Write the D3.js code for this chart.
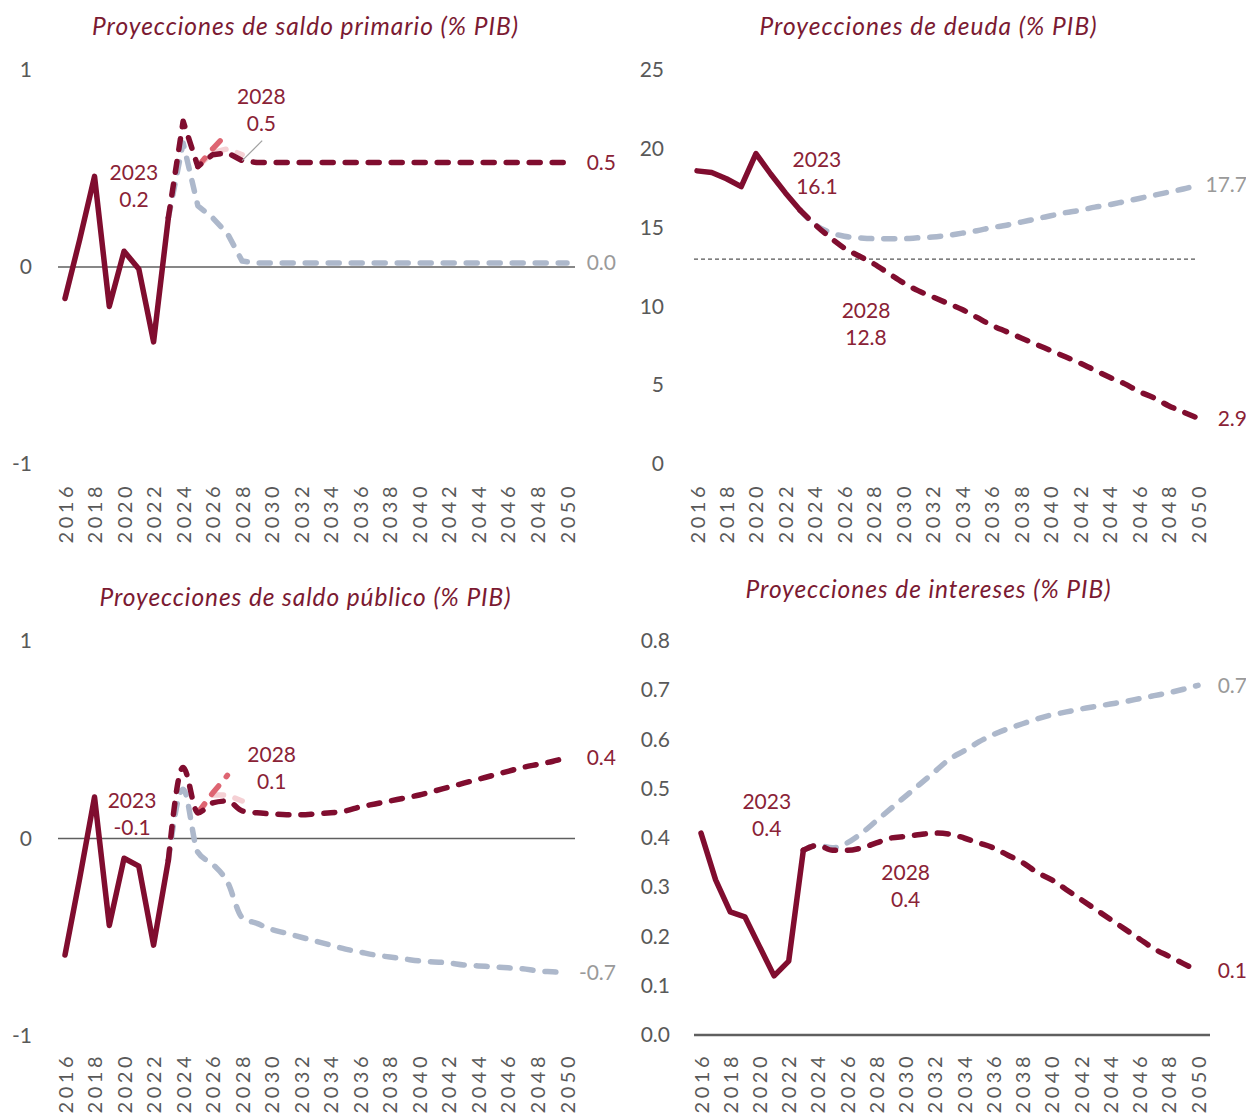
<!DOCTYPE html>
<html>
<head>
<meta charset="utf-8">
<script src="https://cdn.jsdelivr.net/npm/d3@7"></script>
<style>
  body { margin: 0; background: #fff; }
  svg { display: block; font-family: Lato, "Open Sans", sans-serif; }
</style>
</head>
<body>
<div id="chart"></div>
<script>
// years and tick labels
const years = d3.range(2016, 2051);
const tickYears = years.filter(d => d % 2 === 0);

// saldo primario
const primarioHist = [-0.16, 0.14, 0.46, -0.2, 0.08, -0.01, -0.38, 0.25]; // 2016-2023
const primarioBase = [0.25, 0.74, 0.51, 0.57, 0.58, 0.54, 0.53, 0.53, 0.53, 0.53, 0.53, 0.53, 0.53, 0.53,
  0.53, 0.53, 0.53, 0.53, 0.53, 0.53, 0.53, 0.53, 0.53, 0.53, 0.53, 0.53, 0.53, 0.53]; // 2023-2050
const primarioGris = [0.25, 0.63, 0.31, 0.25, 0.17, 0.03, 0.02, 0.02, 0.02, 0.02, 0.02, 0.02, 0.02, 0.02,
  0.02, 0.02, 0.02, 0.02, 0.02, 0.02, 0.02, 0.02, 0.02, 0.02, 0.02, 0.02, 0.02, 0.02]; // 2023-2050
const primarioRosa = [0.51, 0.6, 0.68]; // 2025-2027
const primarioRosaClaro = [0.51, 0.58, 0.6, 0.57]; // 2025-2028

// deuda
const deudaHist = [18.6, 18.5, 18.1, 17.6, 19.7, 18.4, 17.2, 16.1];
const deudaBase = [16.1, 15.2, 14.4, 13.7, 13.2, 12.7, 12.1, 11.5, 11.0, 10.6, 10.2, 9.8, 9.3, 8.8,
  8.4, 8.0, 7.6, 7.2, 6.8, 6.4, 5.95, 5.5, 5.1, 4.6, 4.2, 3.7, 3.3, 2.9];
const deudaGris = [16.1, 15.2, 14.7, 14.45, 14.35, 14.3, 14.3, 14.3, 14.35, 14.4, 14.5, 14.65, 14.8, 15.0,
  15.15, 15.35, 15.55, 15.75, 15.95, 16.1, 16.3, 16.45, 16.65, 16.85, 17.05, 17.25, 17.45, 17.7];
const deudaUmbral = 13;

// saldo publico
const publicoHist = [-0.59, -0.2, 0.21, -0.44, -0.1, -0.14, -0.54, -0.11];
const publicoBase = [-0.11, 0.36, 0.13, 0.18, 0.19, 0.14, 0.13, 0.125, 0.12, 0.12, 0.125, 0.13, 0.14, 0.16,
  0.175, 0.19, 0.205, 0.22, 0.24, 0.26, 0.28, 0.3, 0.32, 0.34, 0.36, 0.375, 0.39, 0.41];
const publicoGris = [-0.11, 0.25, -0.07, -0.13, -0.22, -0.4, -0.43, -0.46, -0.48, -0.5, -0.52, -0.54, -0.56, -0.575,
  -0.59, -0.6, -0.61, -0.62, -0.625, -0.63, -0.64, -0.645, -0.65, -0.655, -0.66, -0.67, -0.675, -0.68];
const publicoRosa = [0.13, 0.23, 0.32];
const publicoRosaClaro = [0.13, 0.22, 0.22, 0.19];

// intereses
const interesesHist = [0.41, 0.315, 0.25, 0.24, 0.18, 0.12, 0.15, 0.375];
const interesesBase = [0.375, 0.385, 0.375, 0.375, 0.38, 0.39, 0.4, 0.403, 0.407, 0.41, 0.408, 0.4, 0.39, 0.38,
  0.365, 0.35, 0.33, 0.315, 0.295, 0.275, 0.255, 0.235, 0.215, 0.195, 0.175, 0.16, 0.145, 0.13];
const interesesGris = [0.375, 0.385, 0.38, 0.39, 0.41, 0.435, 0.46, 0.485, 0.51, 0.535, 0.56, 0.577, 0.595, 0.61,
  0.622, 0.632, 0.642, 0.65, 0.656, 0.662, 0.667, 0.672, 0.677, 0.683, 0.689, 0.695, 0.702, 0.71];

const RED = "#800d2f", TXT_RED = "#8a2236", TITLE = "#7b1a32", GRIS = "#adb8cb",
  ROSA = "#de6572", ROSA_CLARO = "#f5d0d4", AXIS_TXT = "#595959", GRIS_TXT = "#9a9a9a";

const svg = d3.select("#chart").append("svg").attr("width", 1246).attr("height", 1113);

// plain hyphen instead of the unicode minus
const fmtInt = d => d3.format("d")(d).replace("\u2212", "-");
const fmtDec = d => d3.format(".1f")(d).replace("\u2212", "-");

// turn a list of values into points starting at a year
function pts(start, vals) {
  return vals.map((v, i) => ({ year: start + i, value: v }));
}

function drawPanel(p) {
  const g = svg.append("g");
  const x = d3.scaleLinear().domain([2016, 2050]).range(p.xRange);
  const y = d3.scaleLinear().domain(p.yDomain).range(p.yRange);

  // title
  g.append("text")
    .attr("x", p.titleX).attr("y", p.titleY)
    .attr("text-anchor", "middle")
    .attr("font-size", 24.5).attr("font-style", "italic")
    .attr("fill", TITLE)
    .attr("textLength", p.titleW).attr("lengthAdjust", "spacing")
    .text(p.title);

  // y axis labels
  const yAxis = d3.axisLeft(y).tickValues(p.yTicks).tickFormat(p.yFormat).tickSize(0).tickPadding(0);
  const ya = g.append("g").attr("transform", `translate(${p.yLabelX},0)`).call(yAxis);
  ya.select(".domain").remove();
  ya.selectAll("text").attr("font-size", 21).attr("fill", AXIS_TXT).attr("font-family", "Lato, sans-serif");

  // x axis labels (rotated)
  const xa = g.append("g").attr("transform", `translate(0,${p.xLabelY})`)
    .call(d3.axisBottom(x).tickValues(tickYears).tickFormat(d3.format("d")).tickSize(0).tickPadding(0));
  xa.select(".domain").remove();
  xa.selectAll("text")
    .attr("transform", "rotate(-90)")
    .attr("text-anchor", "end")
    .attr("x", 0).attr("y", 0).attr("dy", "0.35em")
    .attr("font-size", 20).attr("letter-spacing", 3.5)
    .attr("fill", AXIS_TXT).attr("font-family", "Lato, sans-serif");

  // reference line
  if (p.zeroLine !== undefined) {
    g.append("line")
      .attr("x1", p.lineX[0]).attr("x2", p.lineX[1])
      .attr("y1", y(p.zeroLine)).attr("y2", y(p.zeroLine))
      .attr("stroke", "#5f5f5f").attr("stroke-width", p.zeroWidth || 1.6);
  }
  if (p.dotLine !== undefined) {
    g.append("line")
      .attr("x1", p.lineX[0]).attr("x2", p.lineX[1])
      .attr("y1", y(p.dotLine)).attr("y2", y(p.dotLine))
      .attr("stroke", "#555").attr("stroke-width", 1.2).attr("stroke-dasharray", "4,3");
  }

  const lineSmooth = d3.line().x(d => x(d.year)).y(d => y(d.value)).curve(d3.curveMonotoneX);
  const lineStraight = d3.line().x(d => x(d.year)).y(d => y(d.value));

  const dashed = (data, color, curve) => g.append("path")
    .datum(data)
    .attr("d", curve)
    .attr("fill", "none").attr("stroke", color).attr("stroke-width", 5.5)
    .attr("stroke-linecap", "round").attr("stroke-linejoin", "round")
    .attr("stroke-dasharray", "11,12");

  dashed(pts(2023, p.gris), GRIS, p.smooth ? lineSmooth : lineStraight);
  if (p.rosaClaro) dashed(pts(2025, p.rosaClaro), ROSA_CLARO, lineStraight);
  if (p.rosa) dashed(pts(2025, p.rosa), ROSA, lineStraight);
  dashed(pts(2023, p.base), RED, p.smooth ? lineSmooth : lineStraight);

  g.append("path")
    .datum(pts(2016, p.hist))
    .attr("d", lineStraight)
    .attr("fill", "none").attr("stroke", RED).attr("stroke-width", 5.5)
    .attr("stroke-linecap", "round").attr("stroke-linejoin", "round");

  // leader line
  if (p.leader) {
    const lx = x(2028), ly = y(p.base[5]);
    g.append("line")
      .attr("x1", lx).attr("y1", ly).attr("x2", lx + 20).attr("y2", ly - 20)
      .attr("stroke", "#a0a0a0").attr("stroke-width", 1.2);
  }

  // annotations
  p.notes.forEach(n => {
    const t = g.append("text")
      .attr("text-anchor", "middle")
      .attr("font-size", 21).attr("fill", TXT_RED);
    t.append("tspan").attr("x", x(n.year)).attr("y", y(n.value)).attr("dy", "0.35em").text(n.l1);
    t.append("tspan").attr("x", x(n.year)).attr("dy", 27).text(n.l2);
  });

  // end labels
  const last = p.base.length - 1;
  g.append("text")
    .attr("x", x(2050) + 49).attr("y", y(p.base[last])).attr("dy", "0.35em")
    .attr("text-anchor", "end").attr("font-size", 21).attr("fill", TXT_RED)
    .text(p.endBase);
  g.append("text")
    .attr("x", x(2050) + 49).attr("y", y(p.gris[last])).attr("dy", "0.35em")
    .attr("text-anchor", "end").attr("font-size", 21).attr("fill", GRIS_TXT)
    .text(p.endGris);
}

drawPanel({
  title: "Proyecciones de saldo primario (% PIB)", titleX: 305, titleY: 35, titleW: 426,
  xRange: [65, 567], yDomain: [-1, 1], yRange: [464, 70],
  yTicks: [-1, 0, 1], yFormat: fmtInt, yLabelX: 32, xLabelY: 483,
  zeroLine: 0, lineX: [58, 575],
  hist: primarioHist, base: primarioBase, gris: primarioGris,
  rosa: primarioRosa, rosaClaro: primarioRosaClaro, leader: true, smooth: false,
  notes: [{ year: 2020.67, value: 0.48, l1: "2023", l2: "0.2" },
          { year: 2029.3, value: 0.865, l1: "2028", l2: "0.5" }],
  endBase: "0.5", endGris: "0.0"
});

drawPanel({
  title: "Proyecciones de deuda (% PIB)", titleX: 928, titleY: 35, titleW: 337,
  xRange: [697, 1198], yDomain: [0, 25], yRange: [464, 70],
  yTicks: [0, 5, 10, 15, 20, 25], yFormat: fmtInt, yLabelX: 664, xLabelY: 483,
  dotLine: deudaUmbral, lineX: [694, 1197],
  hist: deudaHist, base: deudaBase, gris: deudaGris, smooth: true,
  notes: [{ year: 2024.14, value: 19.3, l1: "2023", l2: "16.1" },
          { year: 2027.47, value: 9.7, l1: "2028", l2: "12.8" }],
  endBase: "2.9", endGris: "17.7"
});

drawPanel({
  title: "Proyecciones de saldo público (% PIB)", titleX: 305, titleY: 606, titleW: 411,
  xRange: [65, 567], yDomain: [-1, 1], yRange: [1036, 641],
  yTicks: [-1, 0, 1], yFormat: fmtInt, yLabelX: 32, xLabelY: 1053,
  zeroLine: 0, lineX: [58, 575],
  hist: publicoHist, base: publicoBase, gris: publicoGris,
  rosa: publicoRosa, rosaClaro: publicoRosaClaro, smooth: true,
  notes: [{ year: 2020.54, value: 0.19, l1: "2023", l2: "-0.1" },
          { year: 2030.0, value: 0.426, l1: "2028", l2: "0.1" }],
  endBase: "0.4", endGris: "-0.7"
});

drawPanel({
  title: "Proyecciones de intereses (% PIB)", titleX: 928, titleY: 598, titleW: 365,
  xRange: [701, 1198], yDomain: [0, 0.8], yRange: [1035, 641],
  yTicks: [0, 0.1, 0.2, 0.3, 0.4, 0.5, 0.6, 0.7, 0.8], yFormat: fmtDec, yLabelX: 670, xLabelY: 1053,
  zeroLine: 0, zeroWidth: 2.5, lineX: [694, 1210],
  hist: interesesHist, base: interesesBase, gris: interesesGris, smooth: true,
  notes: [{ year: 2020.5, value: 0.473, l1: "2023", l2: "0.4" },
          { year: 2030.0, value: 0.329, l1: "2028", l2: "0.4" }],
  endBase: "0.1", endGris: "0.7"
});
</script>
</body>
</html>
